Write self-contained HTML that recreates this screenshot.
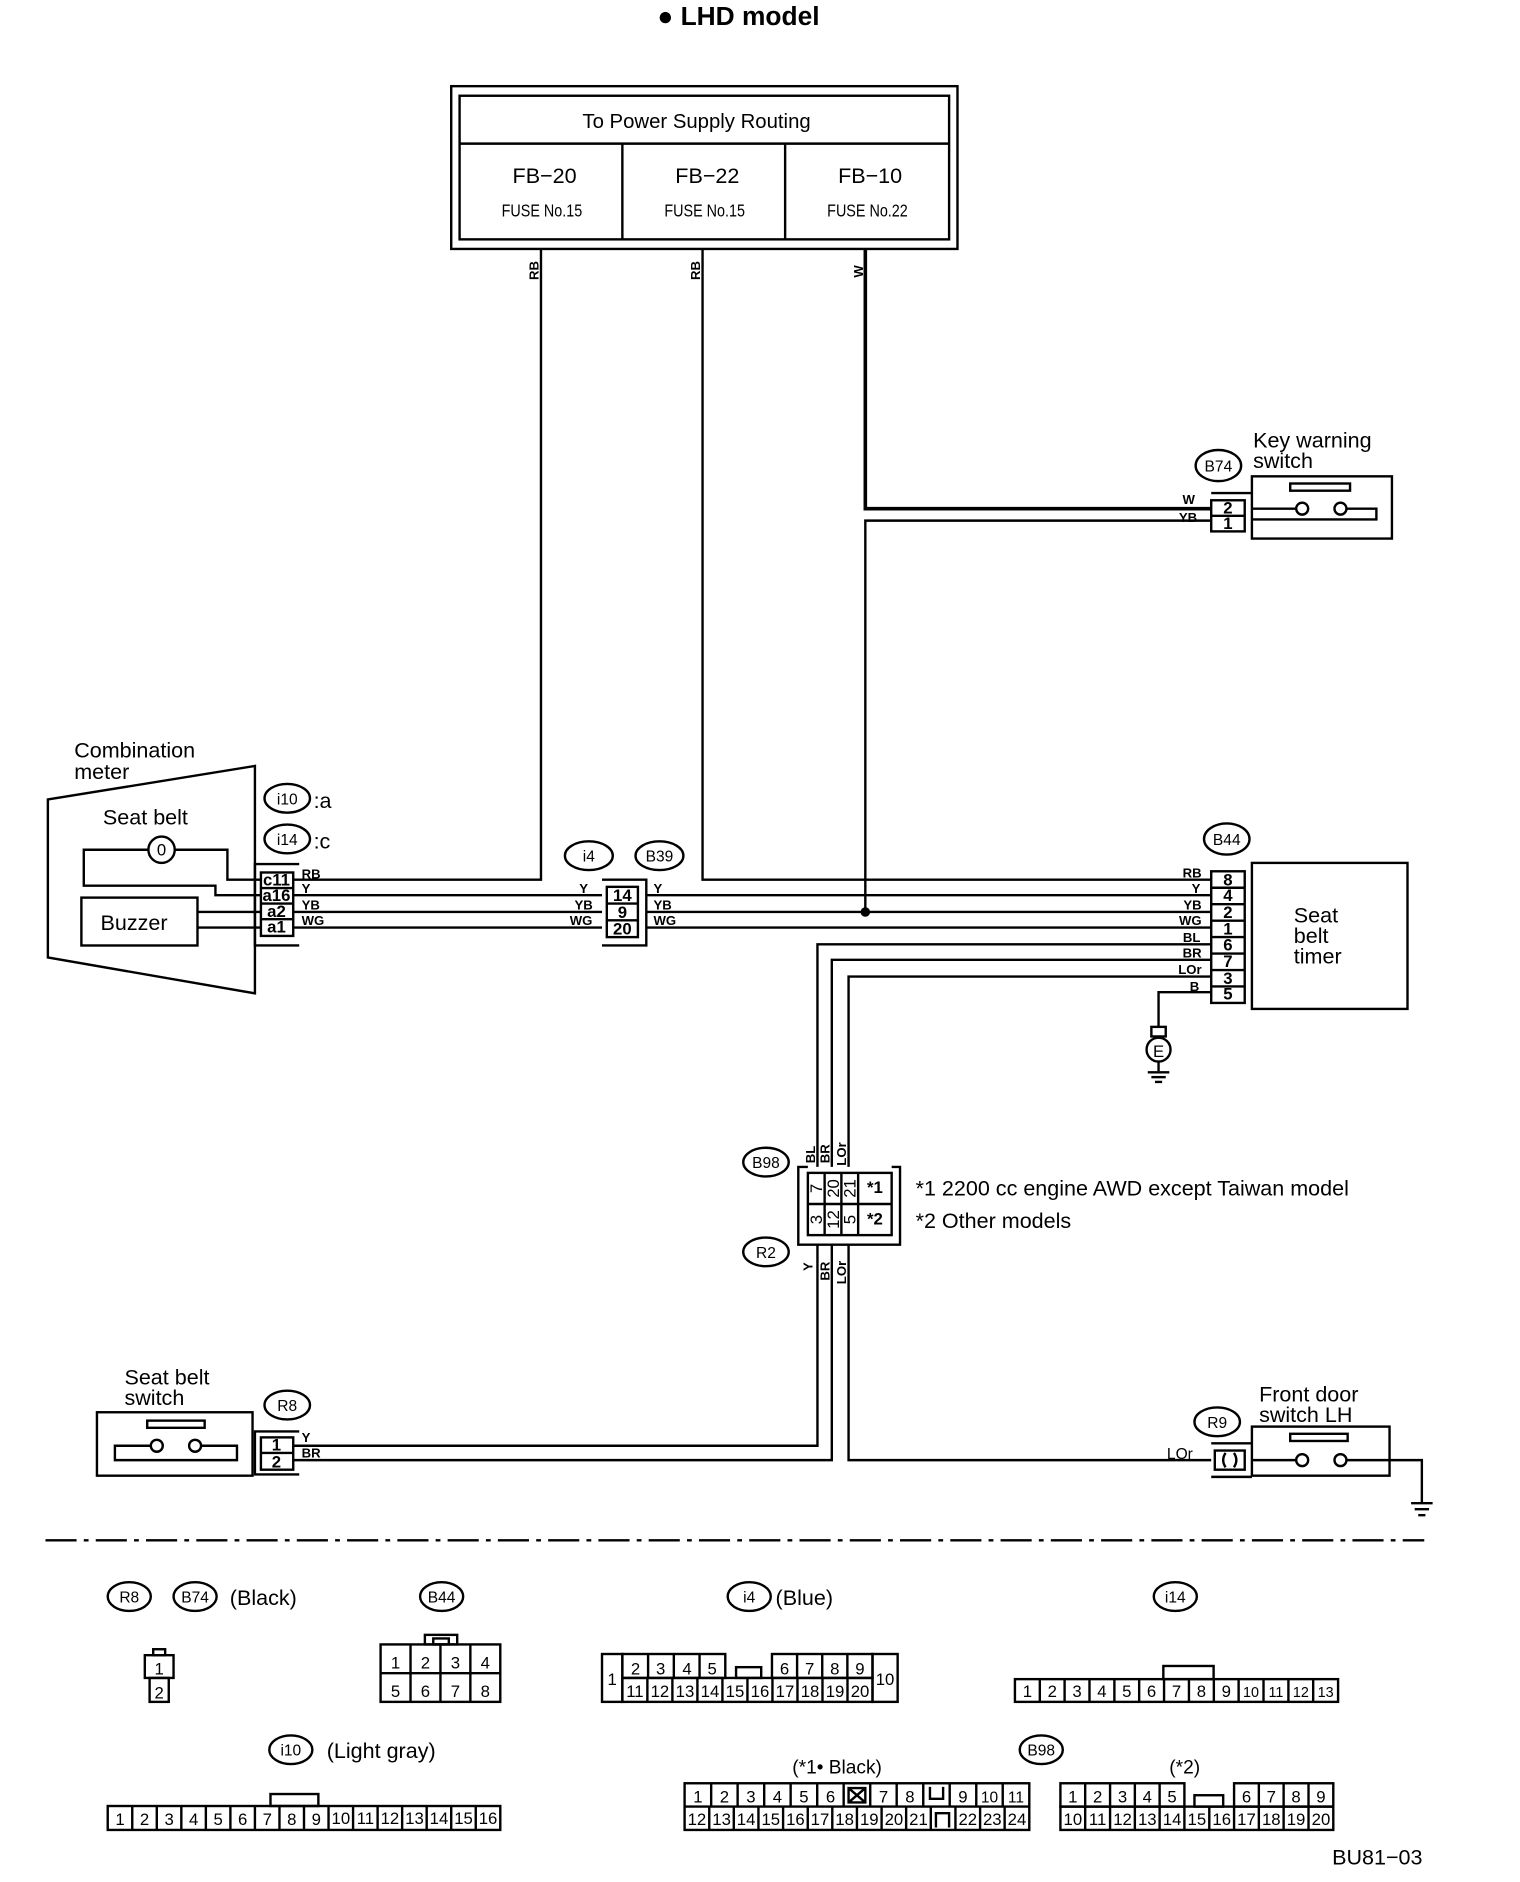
<!DOCTYPE html>
<html><head><meta charset="utf-8"><style>
html,body{margin:0;padding:0;background:#fff}
svg{display:block}
text{font-family:"Liberation Sans",sans-serif;fill:#000}
.n{font-size:14px;text-anchor:middle}
.l{font-size:11px;font-weight:bold}
</style></head><body>
<svg width="1520" height="1882" viewBox="0 0 1270 1572.5" preserveAspectRatio="none" xmlns="http://www.w3.org/2000/svg">
<g fill="none" stroke="#000" stroke-width="2">
<rect x="377" y="72" width="423" height="136"/>
<rect x="384" y="80" width="409" height="120"/>
<line x1="384" y1="120" x2="793" y2="120"/>
<line x1="520" y1="120" x2="520" y2="200"/>
<line x1="656" y1="120" x2="656" y2="200"/>
<polyline points="452,208 452,735 245,735"/>
<polyline points="587,208 587,735 1012,735"/>
<polyline points="723,208 723,425 1012,425" stroke-width="3"/>
<polyline points="1012,435 723,435 723,762"/>
<line x1="245" y1="748" x2="503" y2="748"/><line x1="245" y1="762" x2="503" y2="762"/><line x1="245" y1="775" x2="503" y2="775"/>
<line x1="540" y1="748" x2="1012" y2="748"/><line x1="540" y1="762" x2="1012" y2="762"/><line x1="540" y1="775" x2="1012" y2="775"/>
<polyline points="1012,789 683,789 683,975"/>
<polyline points="1012,802 695,802 695,975"/>
<polyline points="1012,816 709,816 709,975"/>
<polyline points="1012,829 968,829 968,858"/>
<polyline points="683,1040 683,1208 245,1208"/>
<polyline points="695,1040 695,1220 245,1220"/>
<polyline points="709,1040 709,1220 1012,1220"/>
<rect x="962" y="858" width="12" height="8"/>
<circle cx="968" cy="877" r="10"/>
<line x1="968" y1="887" x2="968" y2="895"/>
<line x1="959" y1="896" x2="977" y2="896"/><line x1="962" y1="900" x2="974" y2="900"/><line x1="965" y1="904" x2="971" y2="904"/>
<polygon points="40,668 213,640 213,830 40,800"/>
<circle cx="135" cy="710" r="11"/>
<polyline points="124,710 70,710 70,740 180,740 180,748 218,748"/>
<polyline points="146,710 190,710 190,735 218,735"/>
<rect x="68" y="750" width="97" height="40"/>
<line x1="165" y1="762" x2="218" y2="762"/><line x1="165" y1="775" x2="218" y2="775"/>
<polyline points="250,722 213,722 213,790 250,790"/>
<rect x="218" y="729" width="27" height="53"/>
<line x1="218" y1="742" x2="245" y2="742"/><line x1="218" y1="755" x2="245" y2="755"/><line x1="218" y1="768" x2="245" y2="768"/>
<polyline points="503,735 540,735 540,790 503,790"/>
<rect x="507" y="741" width="26" height="42"/>
<line x1="507" y1="755" x2="533" y2="755"/><line x1="507" y1="769" x2="533" y2="769"/>
<ellipse cx="492" cy="715" rx="20" ry="12"/><ellipse cx="551" cy="715" rx="20" ry="12"/>
<ellipse cx="1018" cy="389" rx="19" ry="13"/>
<rect x="1012" y="418" width="28" height="26"/><line x1="1012" y1="431" x2="1040" y2="431"/>
<polyline points="1012,412 1046,412"/>
<rect x="1046" y="398" width="117" height="52"/>
<rect x="1078" y="404" width="50" height="6"/>
<line x1="1046" y1="425" x2="1083" y2="425"/>
<circle cx="1088" cy="425" r="5"/><circle cx="1120" cy="425" r="5"/>
<polyline points="1125,425 1150,425 1150,434 1046,434"/>
<ellipse cx="1025" cy="701" rx="19" ry="13"/>
<rect x="1012" y="728" width="28" height="110"/>
<line x1="1012" y1="741.75" x2="1040" y2="741.75"/><line x1="1012" y1="755.5" x2="1040" y2="755.5"/><line x1="1012" y1="769.25" x2="1040" y2="769.25"/><line x1="1012" y1="783" x2="1040" y2="783"/><line x1="1012" y1="796.75" x2="1040" y2="796.75"/><line x1="1012" y1="810.5" x2="1040" y2="810.5"/><line x1="1012" y1="824.25" x2="1040" y2="824.25"/>
<rect x="1046" y="721" width="130" height="122"/>
<ellipse cx="640" cy="971" rx="19" ry="12"/><ellipse cx="640" cy="1046" rx="19" ry="12"/>
<polyline points="675,975 667,975 667,1040 752,1040 752,975 745,975"/>
<rect x="675" y="980" width="70" height="52"/>
<line x1="689" y1="980" x2="689" y2="1032"/><line x1="703" y1="980" x2="703" y2="1032"/><line x1="717" y1="980" x2="717" y2="1032"/>
<line x1="675" y1="1006" x2="745" y2="1006"/>
<ellipse cx="240" cy="1174" rx="19" ry="12"/>
<rect x="81" y="1180" width="130" height="53"/>
<rect x="123" y="1187" width="48" height="6"/>
<polyline points="126,1208 96,1208 96,1220 198,1220 198,1208 168,1208"/>
<circle cx="131" cy="1208" r="5"/><circle cx="163" cy="1208" r="5"/>
<polyline points="250,1196 213,1196 213,1232 250,1232"/>
<rect x="218" y="1201" width="27" height="27"/><line x1="218" y1="1214" x2="245" y2="1214"/>
<ellipse cx="1017" cy="1188" rx="19" ry="12"/>
<line x1="1012" y1="1206" x2="1046" y2="1206"/><line x1="1012" y1="1234" x2="1046" y2="1234"/>
<rect x="1015" y="1212" width="25" height="16"/>
<path d="M1024 1214 Q1020 1220 1024 1226 M1031 1214 Q1035 1220 1031 1226"/>
<rect x="1046" y="1192" width="115" height="41"/>
<rect x="1078" y="1198" width="48" height="6"/>
<line x1="1046" y1="1220" x2="1083" y2="1220"/>
<circle cx="1088" cy="1220" r="5"/><circle cx="1120" cy="1220" r="5"/>
<polyline points="1125,1220 1188,1220 1188,1255"/>
<line x1="1179" y1="1256" x2="1197" y2="1256"/><line x1="1182" y1="1261" x2="1194" y2="1261"/><line x1="1185" y1="1266" x2="1191" y2="1266"/>
<line x1="38" y1="1287" x2="1190" y2="1287" stroke-dasharray="26,6,4,6"/>
<ellipse cx="108" cy="1334" rx="18" ry="12"/><ellipse cx="163" cy="1334" rx="18" ry="12"/>
<ellipse cx="369" cy="1334" rx="18" ry="12"/><ellipse cx="626" cy="1334" rx="18" ry="12"/>
<ellipse cx="982" cy="1334" rx="18" ry="12"/><ellipse cx="243" cy="1462" rx="18" ry="12"/>
<ellipse cx="870" cy="1462" rx="18" ry="12"/>
<rect x="128" y="1378" width="10" height="5"/>
<rect x="121" y="1383" width="24" height="19"/>
<rect x="125" y="1402" width="16" height="20"/>
<rect x="355" y="1366" width="27" height="8"/><rect x="362" y="1369" width="13" height="5"/>
<rect x="318" y="1374" width="100" height="48"/>
<line x1="318" y1="1398" x2="418" y2="1398"/>
<line x1="343" y1="1374" x2="343" y2="1422"/><line x1="368" y1="1374" x2="368" y2="1422"/><line x1="393" y1="1374" x2="393" y2="1422"/>
<rect x="503" y="1382" width="17" height="40"/>
<rect x="729" y="1382" width="21" height="40"/>
<rect x="520" y="1402" width="209" height="20"/>
<rect x="520" y="1382" width="86" height="20"/>
<rect x="645" y="1382" width="84" height="20"/>
<rect x="615" y="1393" width="21" height="9"/>
<path d="M541.5 1382V1402M563 1382V1402M584.5 1382V1402M666 1382V1402M687 1382V1402M708 1382V1402"/>
<path d="M540.9 1402V1422M561.8 1402V1422M582.7 1402V1422M603.6 1402V1422M624.5 1402V1422M645.4 1402V1422M666.3 1402V1422M687.2 1402V1422M708.1 1402V1422"/>
<rect x="972" y="1392" width="42" height="11"/>
<rect x="848" y="1403" width="270" height="19"/>
<path d="M868.8 1403V1422M889.5 1403V1422M910.3 1403V1422M931.1 1403V1422M951.8 1403V1422M972.6 1403V1422M993.4 1403V1422M1014.2 1403V1422M1034.9 1403V1422M1055.7 1403V1422M1076.5 1403V1422M1097.2 1403V1422"/>
<rect x="226" y="1499" width="40" height="10"/>
<rect x="90" y="1509" width="328" height="20"/>
<path d="M110.5 1509V1529M131 1509V1529M151.5 1509V1529M172 1509V1529M192.5 1509V1529M213 1509V1529M233.5 1509V1529M254 1509V1529M274.5 1509V1529M295 1509V1529M315.5 1509V1529M336 1509V1529M356.5 1509V1529M377 1509V1529M397.5 1509V1529"/>
<rect x="572" y="1490" width="288" height="39"/>
<line x1="572" y1="1509.5" x2="860" y2="1509.5"/>
<path d="M594.2 1490V1509.5M616.3 1490V1509.5M638.5 1490V1509.5M660.6 1490V1509.5M682.8 1490V1509.5M704.9 1490V1509.5M727.1 1490V1509.5M749.2 1490V1509.5M771.4 1490V1509.5M793.5 1490V1509.5M815.7 1490V1509.5M837.8 1490V1509.5"/>
<path d="M592.6 1509.5V1529M613.1 1509.5V1529M633.7 1509.5V1529M654.3 1509.5V1529M674.9 1509.5V1529M695.4 1509.5V1529M716 1509.5V1529M736.6 1509.5V1529M757.1 1509.5V1529M777.7 1509.5V1529M798.3 1509.5V1529M818.9 1509.5V1529M839.4 1509.5V1529"/>
<path d="M709 1494L723 1506M723 1494L709 1506M709 1494H723V1506H709Z"/>
<path d="M777 1493V1503H788V1493"/>
<path d="M782 1527V1515H793V1527"/>
<rect x="886" y="1509.5" width="228" height="19.5"/>
<rect x="886" y="1490" width="103.6" height="19.5"/>
<rect x="1031.1" y="1490" width="82.9" height="19.5"/>
<rect x="998" y="1500" width="24" height="9.5"/>
<path d="M906.7 1490V1529M927.5 1490V1529M948.2 1490V1529M968.9 1490V1529M1010.4 1509.5V1529M1051.8 1490V1529M1072.5 1490V1529M1093.3 1490V1529M989.6 1509.5V1529M1031.1 1509.5V1529"/>
</g>
<circle cx="723" cy="762" r="4" fill="#000"/>

<text x="617" y="21" font-size="22" font-weight="bold" text-anchor="middle">● LHD model</text>
<text x="582" y="107" font-size="17" text-anchor="middle">To Power Supply Routing</text>
<g font-size="18" text-anchor="middle">
<text x="455" y="153">FB−20</text><text x="591" y="153">FB−22</text><text x="727" y="153">FB−10</text>
</g>
<g font-size="15" text-anchor="middle" transform="scale(0.8,1)">
<text x="566" y="181">FUSE No.15</text><text x="736" y="181">FUSE No.15</text><text x="906" y="181">FUSE No.22</text>
</g>
<g class="l">
<text transform="translate(450,234) rotate(-90)">RB</text>
<text transform="translate(585,234) rotate(-90)">RB</text>
<text transform="translate(721,232) rotate(-90)">W</text>
<text x="988" y="421">W</text><text x="985" y="436">YB</text>
<text x="252" y="734">RB</text><text x="252" y="746">Y</text><text x="252" y="760">YB</text><text x="252" y="773">WG</text>
<text x="484" y="746">Y</text><text x="480" y="760">YB</text><text x="476" y="773">WG</text>
<text x="546" y="746">Y</text><text x="546" y="760">YB</text><text x="546" y="773">WG</text>
<g text-anchor="end"><text x="1004" y="733">RB</text><text x="1003" y="746">Y</text><text x="1004" y="760">YB</text><text x="1004" y="773">WG</text><text x="1003" y="787">BL</text><text x="1004" y="800">BR</text><text x="1004" y="814">LOr</text><text x="1002" y="828">B</text></g>
<text transform="translate(681,972) rotate(-90)">BL</text>
<text transform="translate(693,972) rotate(-90)">BR</text>
<text transform="translate(707,974) rotate(-90)">LOr</text>
<text transform="translate(679,1062) rotate(-90)">Y</text>
<text transform="translate(693,1070) rotate(-90)">BR</text>
<text transform="translate(707,1073) rotate(-90)">LOr</text>
<text x="252" y="1205">Y</text><text x="252" y="1218">BR</text>
<text x="975" y="1219" font-weight="normal" font-size="13">LOr</text>
</g>
<g font-size="18">
<text x="62" y="633">Combination</text><text x="62" y="651">meter</text>
<text x="86" y="689">Seat belt</text>
<text x="84" y="777">Buzzer</text>
<text x="262" y="675">:a</text><text x="262" y="709">:c</text>
<text x="1047" y="374">Key warning</text><text x="1047" y="391">switch</text>
<text x="1081" y="771">Seat</text><text x="1081" y="788">belt</text><text x="1081" y="805">timer</text>
<text x="765" y="999">*1  2200 cc engine AWD except Taiwan model</text>
<text x="765" y="1026">*2  Other models</text>
<text x="104" y="1157">Seat belt</text><text x="104" y="1174">switch</text>
<text x="1052" y="1171">Front door</text><text x="1052" y="1188">switch LH</text>
<text x="192" y="1341">(Black)</text>
<text x="648" y="1341">(Blue)</text>
<text x="273" y="1469">(Light gray)</text>
<text x="662" y="1482" font-size="16">(*1• Black)</text>
<text x="977" y="1482" font-size="16">(*2)</text>
<text x="1113" y="1558">BU81−03</text>
</g>
<ellipse cx="240" cy="667" rx="19" ry="12" fill="none" stroke="#000" stroke-width="2"/>
<ellipse cx="240" cy="701" rx="19" ry="12" fill="none" stroke="#000" stroke-width="2"/>
<g font-size="13" text-anchor="middle">
<text x="240" y="672">i10</text><text x="240" y="706">i14</text>
<text x="492" y="720">i4</text><text x="551" y="720">B39</text>
<text x="1018" y="394">B74</text><text x="1025" y="706">B44</text>
<text x="640" y="976">B98</text><text x="640" y="1051">R2</text>
<text x="240" y="1179">R8</text><text x="1017" y="1193">R9</text>
<text x="108" y="1339">R8</text><text x="163" y="1339">B74</text><text x="369" y="1339">B44</text>
<text x="626" y="1339">i4</text><text x="982" y="1339">i14</text><text x="243" y="1467">i10</text><text x="870" y="1467">B98</text>
<text x="135" y="715" font-size="14">0</text>
</g>
<g class="n" font-size="12" font-weight="bold">
<text x="231" y="740">c11</text><text x="231" y="753">a16</text><text x="231" y="766">a2</text><text x="231" y="779">a1</text>
<text x="520" y="753">14</text><text x="520" y="767">9</text><text x="520" y="781">20</text>
<text x="1026" y="429">2</text><text x="1026" y="442">1</text>
<text x="1026" y="740">8</text><text x="1026" y="753">4</text><text x="1026" y="767">2</text><text x="1026" y="781">1</text><text x="1026" y="794">6</text><text x="1026" y="808">7</text><text x="1026" y="822">3</text><text x="1026" y="835">5</text>
<text x="231" y="1212">1</text><text x="231" y="1226">2</text>
<text x="731" y="997">*1</text><text x="731" y="1023">*2</text>
</g>
<g class="n" font-size="13">
<text transform="translate(687,993) rotate(-90)">7</text><text transform="translate(701,993) rotate(-90)">20</text><text transform="translate(715,993) rotate(-90)">21</text>
<text transform="translate(687,1019) rotate(-90)">3</text><text transform="translate(701,1019) rotate(-90)">12</text><text transform="translate(715,1019) rotate(-90)">5</text>
<text x="968" y="883" font-size="14">E</text>
</g>
<g class="n" font-size="17">
<text x="133" y="1399">1</text><text x="133" y="1419">2</text>
<text x="330.5" y="1394">1</text><text x="355.5" y="1394">2</text><text x="380.5" y="1394">3</text><text x="405.5" y="1394">4</text>
<text x="330.5" y="1418">5</text><text x="355.5" y="1418">6</text><text x="380.5" y="1418">7</text><text x="405.5" y="1418">8</text>
<text x="511.5" y="1408">1</text>
<text x="531" y="1399">2</text><text x="552" y="1399">3</text><text x="574" y="1399">4</text><text x="595" y="1399">5</text>
<text x="655.5" y="1399">6</text><text x="676.5" y="1399">7</text><text x="697.5" y="1399">8</text><text x="718.5" y="1399">9</text>
</g>
<g class="n" font-size="13">
<text x="739.5" y="1408">10</text>
<text x="530.5" y="1418">11</text><text x="551.4" y="1418">12</text><text x="572.3" y="1418">13</text><text x="593.2" y="1418">14</text><text x="614.1" y="1418">15</text><text x="635" y="1418">16</text><text x="655.9" y="1418">17</text><text x="676.8" y="1418">18</text><text x="697.7" y="1418">19</text><text x="718.6" y="1418">20</text>
</g>
<g class="n" font-size="15">
<text x="858.4" y="1418">1</text><text x="879.2" y="1418">2</text><text x="899.9" y="1418">3</text><text x="920.7" y="1418">4</text><text x="941.5" y="1418">5</text><text x="962.2" y="1418">6</text><text x="983" y="1418">7</text><text x="1003.8" y="1418">8</text><text x="1024.6" y="1418">9</text>
<text x="1045.3" y="1418" font-size="12">10</text><text x="1066.1" y="1418" font-size="12">11</text><text x="1086.9" y="1418" font-size="12">12</text><text x="1107.6" y="1418" font-size="12">13</text>
<text x="100.3" y="1525">1</text><text x="120.8" y="1525">2</text><text x="141.3" y="1525">3</text><text x="161.8" y="1525">4</text><text x="182.3" y="1525">5</text><text x="202.8" y="1525">6</text><text x="223.3" y="1525">7</text><text x="243.8" y="1525">8</text><text x="264.3" y="1525">9</text>
</g>
<g class="n" font-size="12">
<text x="284.8" y="1524">10</text><text x="305.3" y="1524">11</text><text x="325.8" y="1524">12</text><text x="346.3" y="1524">13</text><text x="366.8" y="1524">14</text><text x="387.3" y="1524">15</text><text x="407.8" y="1524">16</text>
</g>
<g class="n" font-size="16">
<text x="583.1" y="1506">1</text><text x="605.3" y="1506">2</text><text x="627.4" y="1506">3</text><text x="649.6" y="1506">4</text><text x="671.7" y="1506">5</text><text x="693.9" y="1506">6</text><text x="738.2" y="1506">7</text><text x="760.3" y="1506">8</text>
<text x="804.6" y="1506">9</text><text x="826.8" y="1506" font-size="13">10</text><text x="848.9" y="1506" font-size="13">11</text>
<text x="896.4" y="1506">1</text><text x="917.1" y="1506">2</text><text x="937.9" y="1506">3</text><text x="958.6" y="1506">4</text><text x="979.3" y="1506">5</text>
<text x="1041.5" y="1506">6</text><text x="1062.2" y="1506">7</text><text x="1082.9" y="1506">8</text><text x="1103.7" y="1506">9</text>
</g>
<g class="n" font-size="12">
<text x="582.3" y="1525">12</text><text x="602.9" y="1525">13</text><text x="623.4" y="1525">14</text><text x="644" y="1525">15</text><text x="664.6" y="1525">16</text><text x="685.1" y="1525">17</text><text x="705.7" y="1525">18</text><text x="726.3" y="1525">19</text><text x="746.9" y="1525">20</text><text x="767.4" y="1525">21</text><text x="808.6" y="1525">22</text><text x="829.1" y="1525">23</text><text x="849.7" y="1525">24</text>
<text x="896.4" y="1525">10</text><text x="917.1" y="1525">11</text><text x="937.9" y="1525">12</text><text x="958.6" y="1525">13</text><text x="979.3" y="1525">14</text><text x="1000" y="1525">15</text><text x="1020.8" y="1525">16</text><text x="1041.5" y="1525">17</text><text x="1062.2" y="1525">18</text><text x="1082.9" y="1525">19</text><text x="1103.7" y="1525">20</text>
</g>
</svg>
</body></html>
